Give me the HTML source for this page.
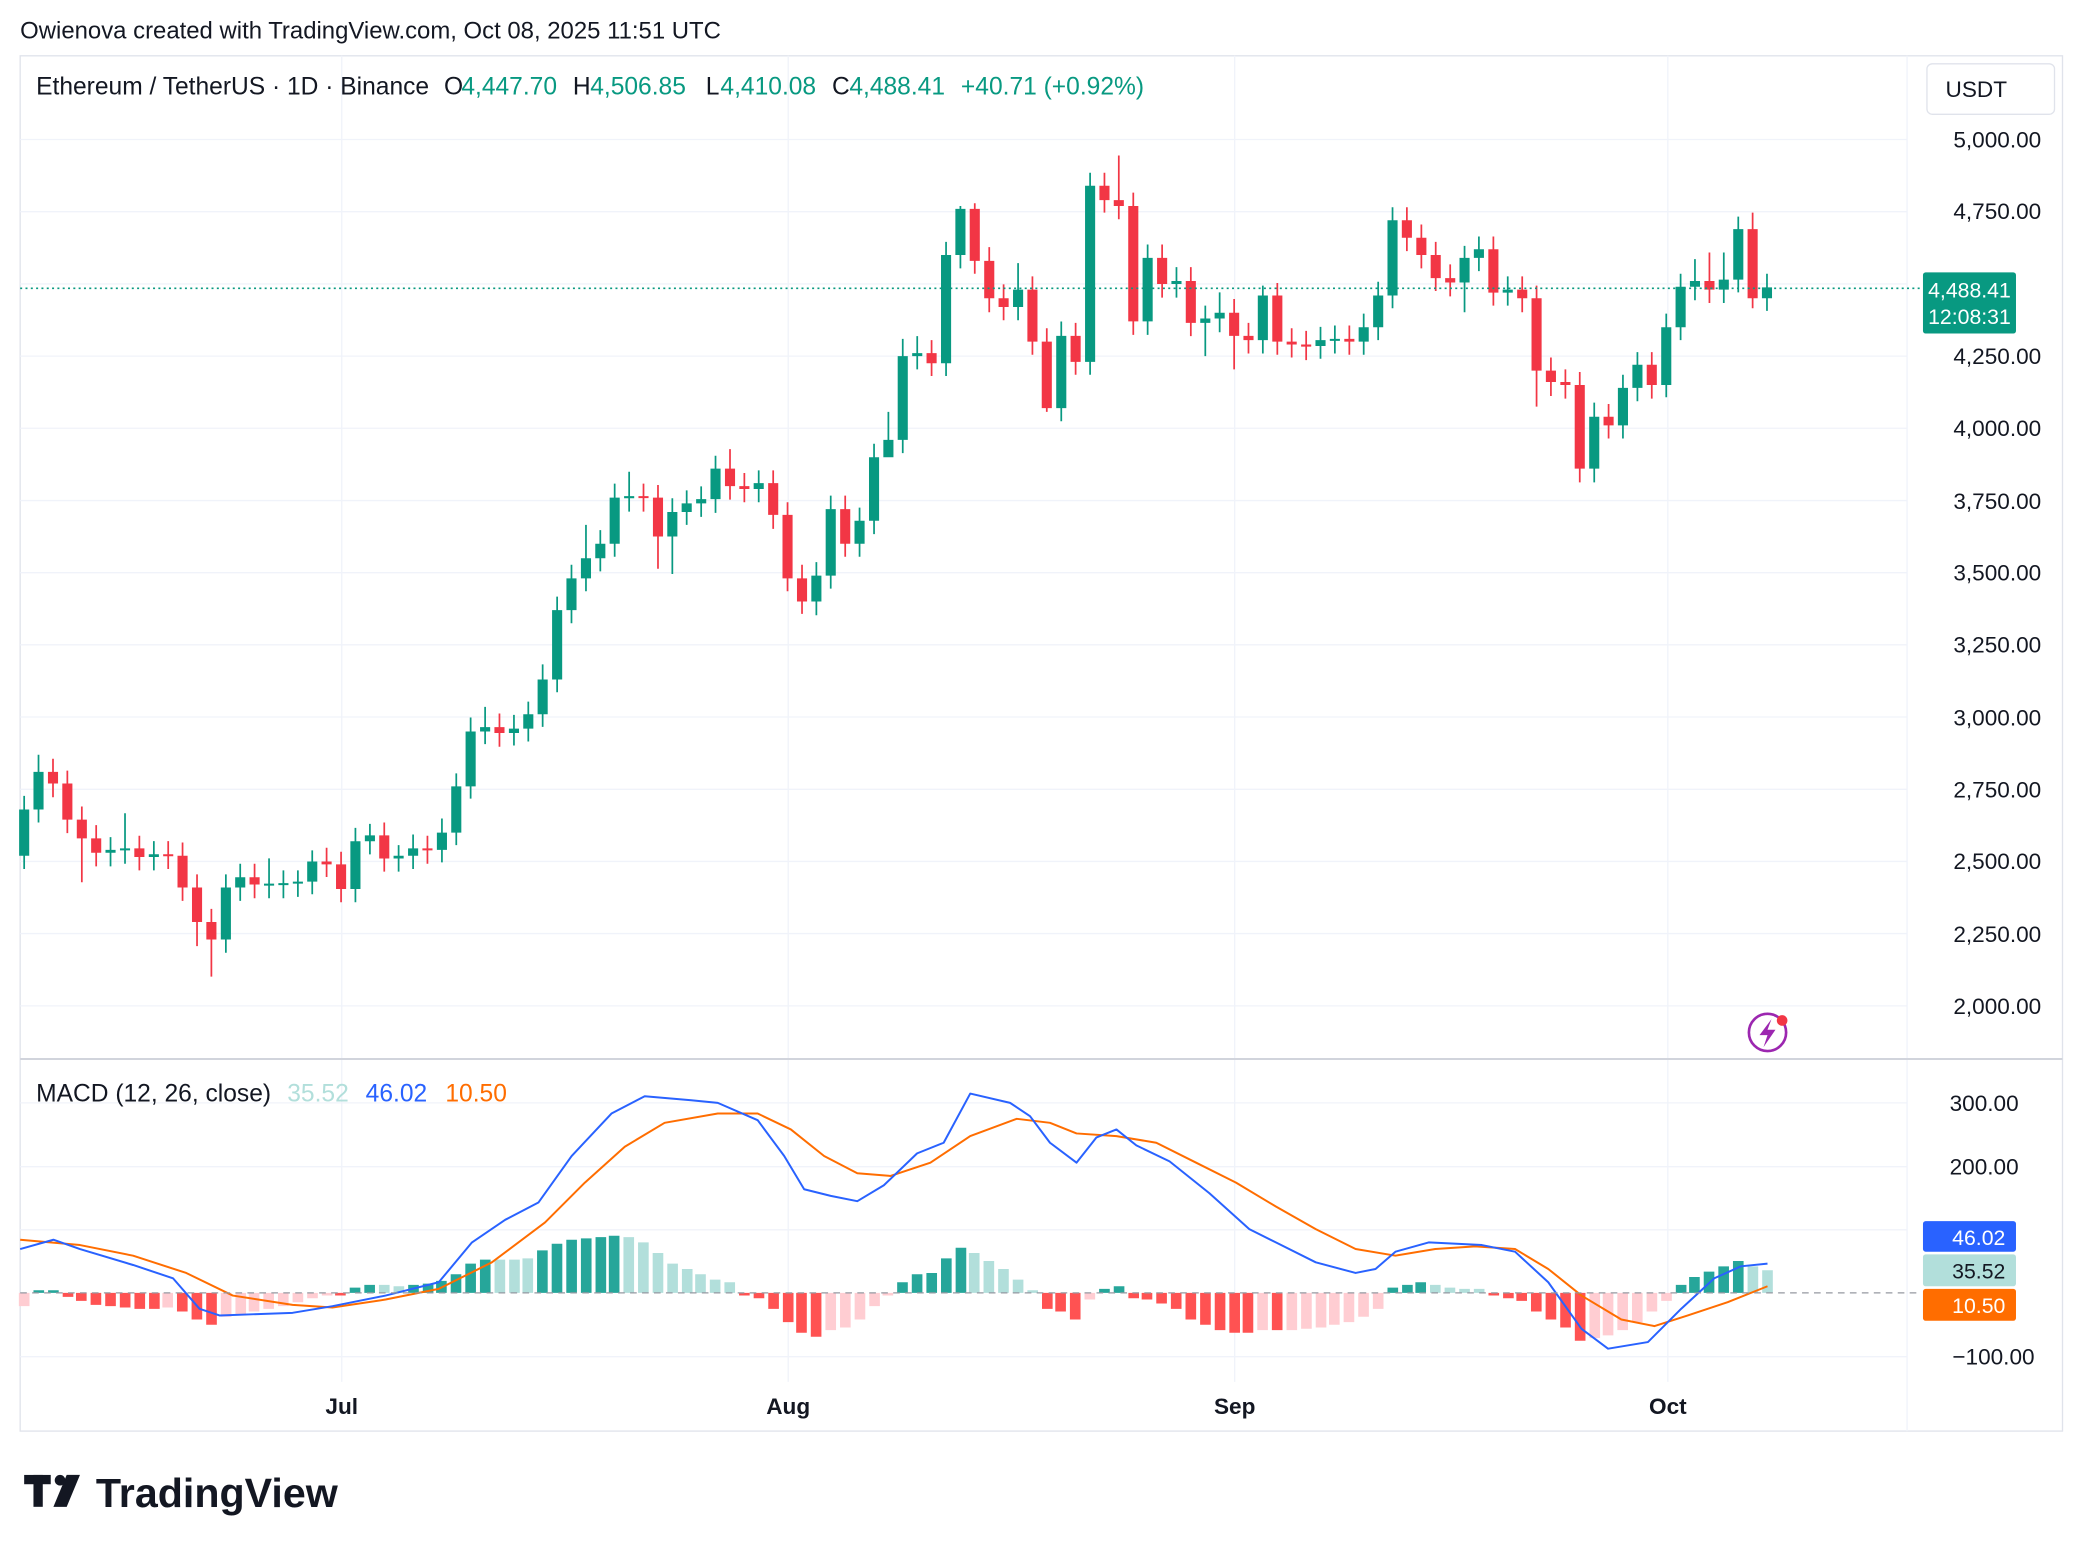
<!DOCTYPE html>
<html><head><meta charset="utf-8">
<style>
html,body{margin:0;padding:0;background:#fff;}
svg{display:block;font-family:"Liberation Sans",sans-serif;}
</style></head>
<body>
<svg width="2084" height="1552" viewBox="0 0 1568 1168" xmlns="http://www.w3.org/2000/svg">
<rect width="1568" height="1168" fill="#fff"/>
<text x="15" y="29" font-size="18" fill="#131722">Owienova created with TradingView.com, Oct 08, 2025 11:51 UTC</text>
<rect x="15" y="42" width="1537" height="1035" fill="none" stroke="#e0e3eb" stroke-width="1"/>
<g stroke="#f0f3fa" stroke-width="1">
<line x1="15" x2="1435" y1="105" y2="105"/><line x1="15" x2="1435" y1="159.3" y2="159.3"/><line x1="15" x2="1435" y1="213.7" y2="213.7"/><line x1="15" x2="1435" y1="268" y2="268"/><line x1="15" x2="1435" y1="322.3" y2="322.3"/><line x1="15" x2="1435" y1="376.7" y2="376.7"/><line x1="15" x2="1435" y1="431" y2="431"/><line x1="15" x2="1435" y1="485.3" y2="485.3"/><line x1="15" x2="1435" y1="539.6" y2="539.6"/><line x1="15" x2="1435" y1="594" y2="594"/><line x1="15" x2="1435" y1="648.3" y2="648.3"/><line x1="15" x2="1435" y1="702.6" y2="702.6"/><line x1="15" x2="1435" y1="757" y2="757"/>
<line x1="15" x2="1435" y1="830" y2="830"/><line x1="15" x2="1435" y1="878" y2="878"/><line x1="15" x2="1435" y1="925.5" y2="925.5"/><line x1="15" x2="1435" y1="1021" y2="1021"/>
<line x1="257" x2="257" y1="42" y2="1040"/><line x1="593" x2="593" y1="42" y2="1040"/><line x1="929" x2="929" y1="42" y2="1040"/><line x1="1255" x2="1255" y1="42" y2="1040"/>
<line x1="1435" y1="42" x2="1435" y2="1077"/>
</g>
<line x1="15" y1="797" x2="1552" y2="797" stroke="#d1d4dc" stroke-width="1.5"/>

<path fill="none" stroke="#089981" stroke-width="1.3" d="M18 599V654M28.8 568V619M83 630V652M93.9 612V650M115.6 633V655M169.8 658V717M180.6 650V678M202.3 646V676M213.1 655V676M224 655V675M234.8 640V673M267.3 623V679M278.2 620V643M299.8 636V656M310.7 628V654M332.4 616V649M343.2 582V636M354 540V601M364.9 532V560M386.6 538V561M397.4 528V558M408.2 500V547M419.1 449V521M429.9 425V469M440.8 395V445M451.6 399V430M462.4 364V419M473.3 355V385M505.8 375V432M516.6 369V395M527.5 366V389M538.3 343V386M570.8 354V378M614.2 423V463M625 373V443M646.7 382V419M657.6 334V402M668.4 310V341M679.2 255V341M690.1 253V278M711.8 182V283M722.6 155V202M766 198V241M798.5 242V317M820.2 130V282M863.5 184V252M885.2 201V224M906.9 230V268M917.7 220V250M950.2 215V266M993.6 246V270M1004.4 245V266M1026.1 236V267M1037 212V256M1047.8 156V232M1102 185V235M1112.8 178V204M1134.5 208V230M1199.6 303V363M1221.2 282V330M1232.1 265V302M1253.8 236V299M1264.6 206V256M1275.4 195V226M1297.1 190V228M1308 163V220M1329.6 206V234"/>
<path fill="none" stroke="#f23645" stroke-width="1.3" d="M39.7 571V600M50.5 580V627M61.4 607V664M72.2 621V652M104.7 629V655M126.4 633V654M137.2 634V678M148.1 658V712M158.9 684V735M191.4 650V676M245.6 638V660M256.5 641V679M289 619V656M321.5 629V650M375.7 537V562M484.1 364V385M495 365V428M549.2 338V376M560 356V378M581.7 354V398M592.5 378V445M603.4 425V462M635.9 373V419M700.9 256V283M733.4 153V206M744.3 186V235M755.1 214V241M776.8 208V267M787.6 247V310M809.3 243V282M831 130V160M841.8 117V165M852.7 145V252M874.4 184V224M896 201V253M928.6 225V278M939.4 243V266M961.1 213V267M971.9 247V269M982.8 249V271M1015.3 245V267M1058.6 156V189M1069.5 169V202M1080.3 182V219M1091.2 199V223M1123.7 178V230M1145.4 208V235M1156.2 215V306M1167 269V298M1177.9 278V300M1188.7 280V363M1210.4 304V330M1242.9 265V300M1286.3 190V228M1318.8 160V232"/>
<path fill="#089981" d="M14.2 609.2h7.6V644h-7.6zM25 580.9h7.6V609.2h-7.6zM79.2 639.6h7.6V641.8h-7.6zM90.1 638.5h7.6V640h-7.6zM111.8 642.9h7.6V645h-7.6zM166 667.9h7.6V707h-7.6zM176.8 660.2h7.6V667.9h-7.6zM198.5 665h7.6V666.5h-7.6zM209.3 664.6h7.6V666.1h-7.6zM220.2 663.5h7.6V665h-7.6zM231 648.3h7.6V663.5h-7.6zM263.5 633.1h7.6V669h-7.6zM274.4 628.7h7.6V633.1h-7.6zM296 644h7.6V646.1h-7.6zM306.9 638.5h7.6V644h-7.6zM328.6 626.6h7.6V639.6h-7.6zM339.4 591.8h7.6V626.6h-7.6zM350.2 550.5h7.6V591.8h-7.6zM361.1 547.2h7.6V550.5h-7.6zM382.8 548.3h7.6V551.6h-7.6zM393.6 537.5h7.6V548.3h-7.6zM404.4 511.4h7.6V537.5h-7.6zM415.3 459.2h7.6V511.4h-7.6zM426.1 435.3h7.6V459.2h-7.6zM437 420.1h7.6V435.3h-7.6zM447.8 409.2h7.6V420.1h-7.6zM458.6 374.5h7.6V409.2h-7.6zM469.5 373.4h7.6V375h-7.6zM502 385.3h7.6V403.8h-7.6zM512.8 378.8h7.6V385.3h-7.6zM523.7 375.6h7.6V378.8h-7.6zM534.5 352.7h7.6V375.6h-7.6zM567 363.6h7.6V368h-7.6zM610.4 433.2h7.6V452.7h-7.6zM621.2 383.2h7.6V433.2h-7.6zM642.9 391.9h7.6V409.2h-7.6zM653.8 344.1h7.6V391.9h-7.6zM664.6 331h7.6V344.1h-7.6zM675.4 268h7.6V331h-7.6zM686.3 265.8h7.6V268h-7.6zM708 191.9h7.6V273.4h-7.6zM718.8 157.2h7.6V191.9h-7.6zM762.2 218h7.6V231h-7.6zM794.7 252.8h7.6V307.1h-7.6zM816.4 139.8h7.6V272.3h-7.6zM859.7 194.1h7.6V241.9h-7.6zM881.4 211.5h7.6V213.7h-7.6zM903.1 239.7h7.6V243h-7.6zM913.9 235.4h7.6V239.7h-7.6zM946.4 222.4h7.6V256h-7.6zM989.8 256h7.6V260.4h-7.6zM1000.6 255h7.6V256.5h-7.6zM1022.3 246.3h7.6V257.1h-7.6zM1033.2 222.4h7.6V246.3h-7.6zM1044 165.8h7.6V222.4h-7.6zM1098.2 194.1h7.6V212.6h-7.6zM1109 187.6h7.6V194.1h-7.6zM1130.7 218h7.6V220.2h-7.6zM1195.8 313.6h7.6V352.7h-7.6zM1217.4 291.9h7.6V320.1h-7.6zM1228.3 274.5h7.6V291.9h-7.6zM1250 246.3h7.6V289.7h-7.6zM1260.8 215.8h7.6V246.3h-7.6zM1271.6 211.5h7.6V215.8h-7.6zM1293.3 210.4h7.6V218h-7.6zM1304.2 172.4h7.6V210.4h-7.6zM1325.8 216.3h7.6V224.5h-7.6z"/>
<path fill="#f23645" d="M35.9 580.9h7.6V589.6h-7.6zM46.7 589.6h7.6V616.8h-7.6zM57.6 616.8h7.6V630.9h-7.6zM68.4 630.9h7.6V641.8h-7.6zM100.9 638.5h7.6V645h-7.6zM122.6 642.9h7.6V644.4h-7.6zM133.4 644h7.6V667.9h-7.6zM144.3 667.9h7.6V693.9h-7.6zM155.1 693.9h7.6V707h-7.6zM187.6 660.2h7.6V665.7h-7.6zM241.8 648.3h7.6V650.5h-7.6zM252.7 650.5h7.6V669h-7.6zM285.2 628.7h7.6V646.1h-7.6zM317.7 638.5h7.6V640h-7.6zM371.9 547.2h7.6V551.6h-7.6zM480.3 373.4h7.6V374.9h-7.6zM491.2 374.5h7.6V403.8h-7.6zM545.4 352.7h7.6V365.8h-7.6zM556.2 365.8h7.6V368h-7.6zM577.9 363.6h7.6V387.5h-7.6zM588.7 387.5h7.6V435.3h-7.6zM599.6 435.3h7.6V452.7h-7.6zM632.1 383.2h7.6V409.2h-7.6zM697.1 265.8h7.6V273.4h-7.6zM729.6 157.2h7.6V196.3h-7.6zM740.5 196.3h7.6V224.5h-7.6zM751.3 224.5h7.6V231h-7.6zM773 218h7.6V257.1h-7.6zM783.8 257.1h7.6V307.1h-7.6zM805.5 252.8h7.6V272.3h-7.6zM827.2 139.8h7.6V150.6h-7.6zM838 150.6h7.6V155h-7.6zM848.9 155h7.6V241.9h-7.6zM870.6 194.1h7.6V213.7h-7.6zM892.2 211.5h7.6V243h-7.6zM924.8 235.4h7.6V252.8h-7.6zM935.6 252.8h7.6V256h-7.6zM957.3 222.4h7.6V257.1h-7.6zM968.1 257.1h7.6V259.3h-7.6zM979 259.3h7.6V260.9h-7.6zM1011.5 255h7.6V257.1h-7.6zM1054.8 165.8h7.6V178.9h-7.6zM1065.7 178.9h7.6V191.9h-7.6zM1076.5 191.9h7.6V209.3h-7.6zM1087.4 209.3h7.6V212.6h-7.6zM1119.9 187.6h7.6V220.2h-7.6zM1141.6 218h7.6V224.5h-7.6zM1152.4 224.5h7.6V278.9h-7.6zM1163.2 278.9h7.6V287.5h-7.6zM1174.1 287.5h7.6V289.7h-7.6zM1184.9 289.7h7.6V352.7h-7.6zM1206.6 313.6h7.6V320.1h-7.6zM1239.1 274.5h7.6V289.7h-7.6zM1282.5 211.5h7.6V218h-7.6zM1315 172.4h7.6V224.5h-7.6z"/>

<path fill="#26a69a" d="M25 973h8V971h-8zM36 973h8V971h-8zM263 973h8V969h-8zM274 973h8V967h-8zM307 973h8V967h-8zM318 973h8V966h-8zM328 973h8V964h-8zM339 973h8V959h-8zM350 973h8V951h-8zM361 973h8V948h-8zM404 973h8V941h-8zM415 973h8V936h-8zM426 973h8V933h-8zM437 973h8V932h-8zM448 973h8V931h-8zM458 973h8V930h-8zM675 973h8V965h-8zM686 973h8V959h-8zM697 973h8V958h-8zM708 973h8V947h-8zM719 973h8V939h-8zM838 973h8V968h-8zM827 973h8V970h-8zM1044 973h8V969h-8zM1055 973h8V967h-8zM1065 973h8V965h-8zM1261 973h8V967h-8zM1271 973h8V961h-8zM1282 973h8V957h-8zM1293 973h8V953h-8zM1304 973h8V949h-8z"/>
<path fill="#b2dfdb" d="M285 973h8V967h-8zM296 973h8V968h-8zM372 973h8V948h-8zM383 973h8V948h-8zM393 973h8V947h-8zM469 973h8V931h-8zM480 973h8V935h-8zM491 973h8V943h-8zM502 973h8V951h-8zM513 973h8V955h-8zM523 973h8V959h-8zM534 973h8V963h-8zM545 973h8V965h-8zM729 973h8V943h-8zM740 973h8V949h-8zM751 973h8V955h-8zM762 973h8V963h-8zM773 973h8V971h-8zM1076 973h8V967h-8zM1087 973h8V969h-8zM1098 973h8V970h-8zM1109 973h8V970h-8zM1315 973h8V953h-8zM1326 973h8V956h-8z"/>
<path fill="#ff5252" d="M47 973h8V976h-8zM57 973h8V979h-8zM68 973h8V982h-8zM79 973h8V983h-8zM90 973h8V984h-8zM101 973h8V985h-8zM112 973h8V985h-8zM133 973h8V987h-8zM144 973h8V993h-8zM155 973h8V997h-8zM252 973h8V975h-8zM556 973h8V975h-8zM567 973h8V977h-8zM578 973h8V985h-8zM589 973h8V995h-8zM599 973h8V1003h-8zM610 973h8V1006h-8zM784 973h8V985h-8zM794 973h8V987h-8zM805 973h8V993h-8zM849 973h8V977h-8zM859 973h8V978h-8zM870 973h8V981h-8zM881 973h8V985h-8zM892 973h8V993h-8zM903 973h8V997h-8zM914 973h8V1001h-8zM925 973h8V1003h-8zM935 973h8V1003h-8zM957 973h8V1001h-8zM1120 973h8V975h-8zM1131 973h8V977h-8zM1141 973h8V979h-8zM1152 973h8V987h-8zM1163 973h8V993h-8zM1174 973h8V999h-8zM1185 973h8V1009h-8z"/>
<path fill="#ffcdd2" d="M14 973h8V983h-8zM122 973h8V984h-8zM166 973h8V991h-8zM177 973h8V989h-8zM187 973h8V987h-8zM198 973h8V985h-8zM209 973h8V983h-8zM220 973h8V980h-8zM231 973h8V977h-8zM242 973h8V975h-8zM621 973h8V1001h-8zM632 973h8V999h-8zM643 973h8V993h-8zM654 973h8V983h-8zM664 973h8V975h-8zM816 973h8V978h-8zM946 973h8V1001h-8zM968 973h8V1001h-8zM979 973h8V1000h-8zM990 973h8V999h-8zM1000 973h8V997h-8zM1011 973h8V995h-8zM1022 973h8V991h-8zM1033 973h8V985h-8zM1196 973h8V1007h-8zM1206 973h8V1005h-8zM1217 973h8V1001h-8zM1228 973h8V995h-8zM1239 973h8V987h-8zM1250 973h8V979h-8z"/>
<polyline fill="none" stroke="#ff6d00" stroke-width="1.5" stroke-linejoin="round" points="15,933 60,937 100,945 140,958 175,975 220,982 250,984 290,978 330,970 370,950 410,920 440,890 470,863 500,845 540,838 570,838 595,850 620,870 645,883 670,885 700,875 730,855 765,842 790,845 810,853 840,855 870,860 900,875 930,890 960,908 990,925 1020,940 1050,945 1080,940 1110,938 1140,940 1165,955 1190,975 1220,993 1245,998 1270,990 1300,980 1330,968"/>
<polyline fill="none" stroke="#2962ff" stroke-width="1.5" stroke-linejoin="round" points="15,940 40,933 60,940 100,952 130,962 150,985 165,990 220,988 250,983 290,975 330,965 355,935 380,918 405,905 430,870 460,838 485,825 520,828 540,830 570,843 590,870 605,895 625,900 645,904 665,892 690,868 710,860 730,823 760,830 775,840 790,860 810,875 825,856 840,850 855,862 880,874 910,898 940,925 960,935 990,950 1020,958 1035,955 1050,942 1075,935 1115,937 1140,942 1165,965 1190,1000 1210,1015 1240,1010 1265,985 1290,962 1310,953 1330,951"/>

<line x1="15" y1="217" x2="1445" y2="217" stroke="#089981" stroke-width="1.2" stroke-dasharray="1.5,2.5"/>
<line x1="15" y1="973" x2="1445" y2="973" stroke="#9598a1" stroke-width="1" stroke-dasharray="5,4"/>
<g font-size="17" fill="#131722" text-anchor="end">
<text x="1536" y="111">5,000.00</text><text x="1536" y="165">4,750.00</text>
<text x="1536" y="274">4,250.00</text><text x="1536" y="328">4,000.00</text>
<text x="1536" y="383">3,750.00</text><text x="1536" y="437">3,500.00</text>
<text x="1536" y="491">3,250.00</text><text x="1536" y="546">3,000.00</text>
<text x="1536" y="600">2,750.00</text><text x="1536" y="654">2,500.00</text>
<text x="1536" y="709">2,250.00</text><text x="1536" y="763">2,000.00</text>
<text x="1519" y="836">300.00</text><text x="1519" y="884">200.00</text>
<text x="1531" y="1027">−100.00</text>
</g>
<g font-size="17" fill="#131722" text-anchor="middle" font-weight="bold">
<text x="257" y="1064">Jul</text><text x="593" y="1064">Aug</text>
<text x="929" y="1064">Sep</text><text x="1255" y="1064">Oct</text>
</g>
<rect x="1450" y="48" width="96" height="38" rx="4" fill="#fff" stroke="#e0e3eb"/>
<text x="1464" y="73" font-size="17" fill="#131722">USDT</text>
<rect x="1447" y="205" width="70" height="46" rx="2" fill="#089981"/>
<text x="1482" y="224" font-size="16" fill="#fff" text-anchor="middle">4,488.41</text>
<text x="1482" y="244" font-size="16" fill="#fff" text-anchor="middle">12:08:31</text>
<rect x="1447" y="919" width="70" height="23" rx="2" fill="#2962ff"/>
<text x="1509" y="937" font-size="16" fill="#fff" text-anchor="end">46.02</text>
<rect x="1447" y="944" width="70" height="24" rx="2" fill="#b2dfdb"/>
<text x="1509" y="962" font-size="16" fill="#131722" text-anchor="end">35.52</text>
<rect x="1447" y="970" width="70" height="24" rx="2" fill="#ff6d00"/>
<text x="1509" y="988" font-size="16" fill="#fff" text-anchor="end">10.50</text>
<g font-size="18.5">
<text x="27" y="71" fill="#131722">Ethereum / TetherUS · 1D · Binance</text>
<text x="334" y="71" fill="#131722">O</text><text x="347" y="71" fill="#089981">4,447.70</text>
<text x="431" y="71" fill="#131722">H</text><text x="444" y="71" fill="#089981">4,506.85</text>
<text x="531" y="71" fill="#131722">L</text><text x="542" y="71" fill="#089981">4,410.08</text>
<text x="626" y="71" fill="#131722">C</text><text x="639" y="71" fill="#089981">4,488.41</text>
<text x="723" y="71" fill="#089981">+40.71 (+0.92%)</text>
<text x="27" y="829" fill="#131722">MACD (12, 26, close)</text>
<text x="216" y="829" fill="#b2dfdb">35.52</text>
<text x="275" y="829" fill="#2962ff">46.02</text>
<text x="335" y="829" fill="#ff6d00">10.50</text>
</g>
<circle cx="1330" cy="777" r="14" fill="#fff" stroke="#9c27b0" stroke-width="2"/>
<path d="M1333 767 L1324 779 L1330 779 L1327 788 L1336 775 L1330 775 Z" fill="#9c27b0"/>
<circle cx="1341" cy="768" r="4" fill="#f23645"/>
<g fill="#131722">
<rect x="18" y="1110" width="20" height="7"/><rect x="25" y="1110" width="7" height="24"/>
<circle cx="45" cy="1114" r="4"/><path d="M50 1110 L60 1110 L50 1134 L40 1134 Z"/>
<text x="72" y="1134" font-size="31" font-weight="bold">TradingView</text>
</g>
</svg>
</body></html>
